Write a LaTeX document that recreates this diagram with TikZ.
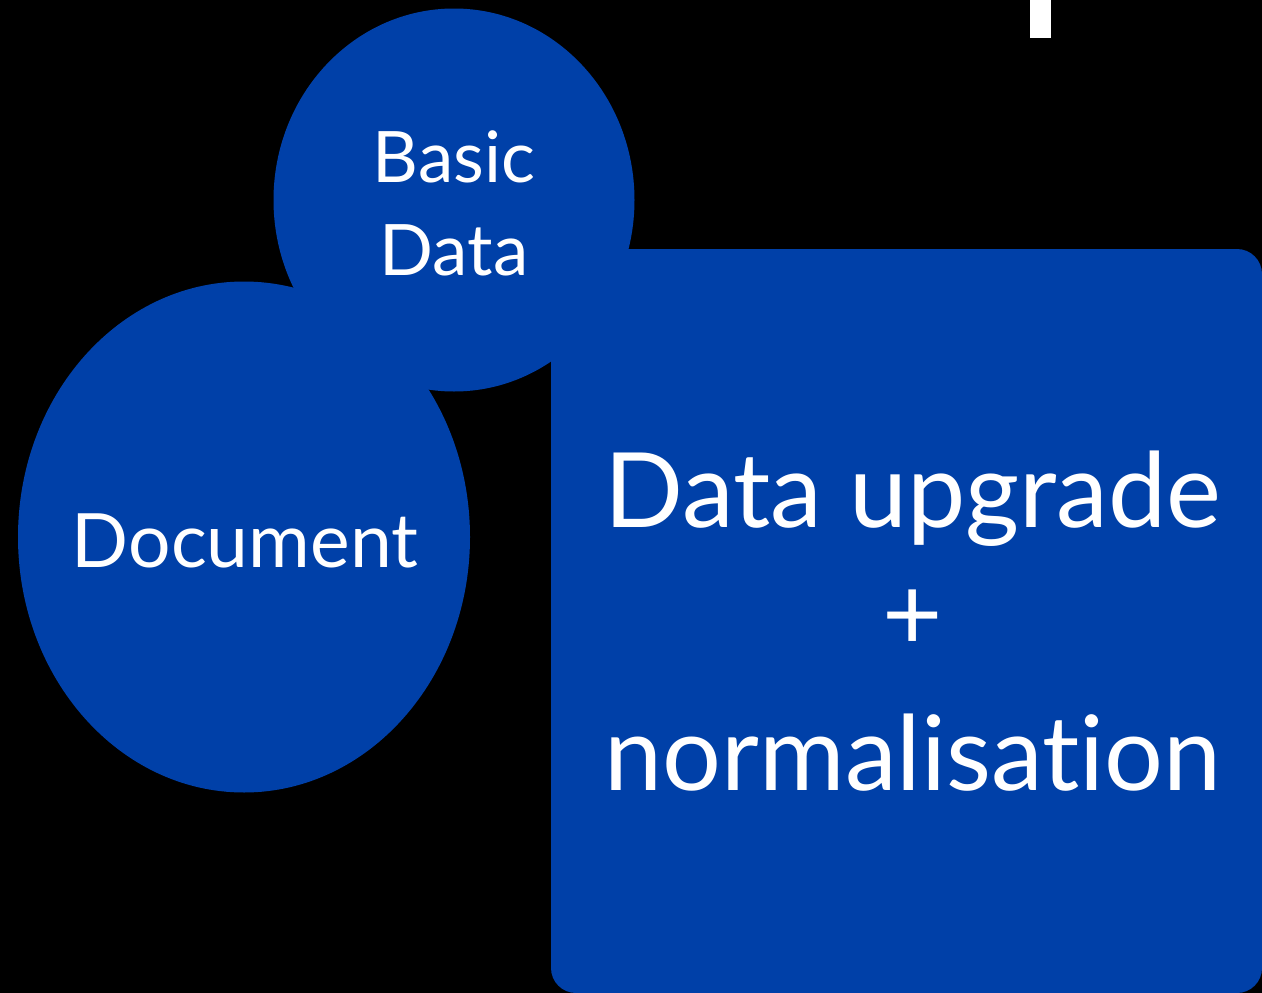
\documentclass[tikz,border=0pt]{standalone}
\usepackage{fontspec}
\setmainfont[Ligatures=NoCommon]{Lato}
\definecolor{slideblue}{RGB}{0,64,168}
\tikzset{
  blob/.style={fill=slideblue, draw=none},
  lbl/.style={text=white, anchor=base, inner sep=0pt, align=center},
}
\begin{document}
\begin{tikzpicture}[x=1pt,y=-1pt]
\fill[black] (0,0) rectangle (1262,993);
\useasboundingbox (0,0) rectangle (1262,993);
\begin{scope}
\clip (0,0) rectangle (1262,993);
% cropped title glyph
\fill[white] (1030,-5) rectangle (1051,38);
% shapes
\fill[blob] (454,200) ellipse [x radius=180.5, y radius=191.5];
\fill[blob] (244,537) ellipse [x radius=226, y radius=255.5];
\fill[blob, rounded corners=25pt] (551,249) rectangle (1262,993);
\end{scope}
% labels
\node[lbl] (basic) at (454,182) {\fontsize{71}{80}\selectfont Basic};
\node[lbl] (data) at (454,275) {\fontsize{71}{80}\selectfont Data};
\node[lbl] (doc) at (245,567) {\fontsize{75}{90}\selectfont Document};
\node[lbl] (up) at (913,527) {\fontsize{104}{120}\selectfont Data upgrade};
\node[lbl] (plus) at (913,650) {\fontsize{104}{120}\selectfont +};
\node[lbl] (norm) at (913,790) {\fontsize{104}{120}\selectfont normalisation};
\end{tikzpicture}
\end{document}
